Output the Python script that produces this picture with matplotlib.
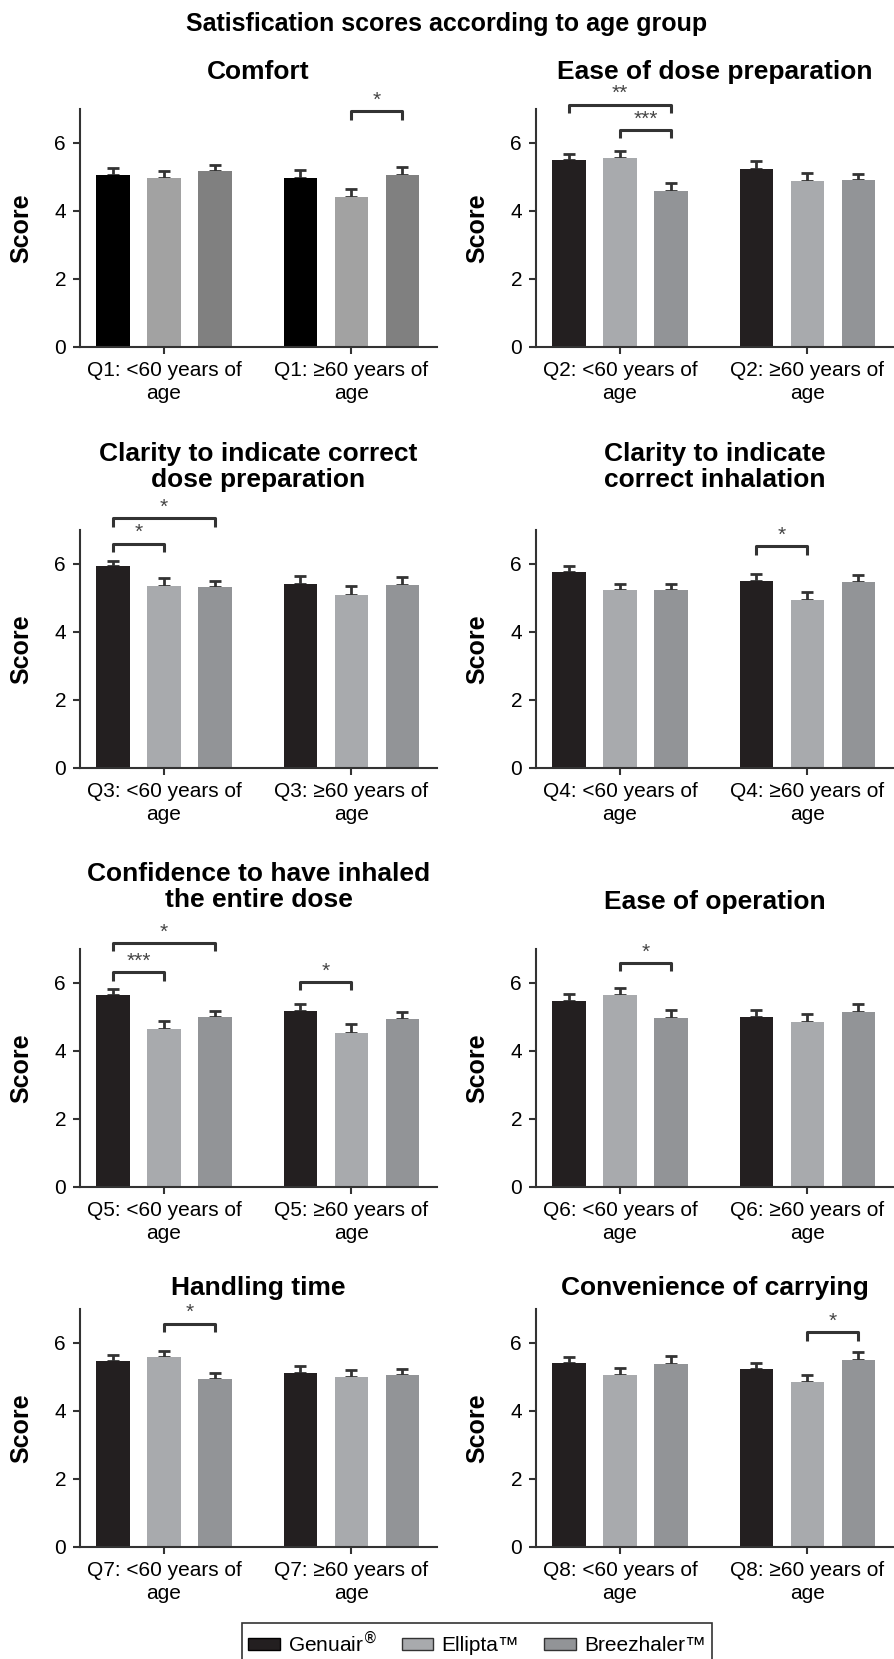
import numpy as np
import matplotlib
matplotlib.use('Agg')
import matplotlib.pyplot as plt
from matplotlib.patches import Patch

plt.rcParams['font.family'] = ['Liberation Sans', 'DejaVu Sans']

# ---- data -------------------------------------------------------------
titles = ['Comfort', 'Ease of dose preparation',
          'Clarity to indicate correct\ndose preparation',
          'Clarity to indicate\ncorrect inhalation',
          'Confidence to have inhaled\nthe entire dose',
          'Ease of operation', 'Handling time', 'Convenience of carrying']
questions = ['Q1', 'Q2', 'Q3', 'Q4', 'Q5', 'Q6', 'Q7', 'Q8']
devices = ['Genuair$^{®}$', 'Ellipta™', 'Breezhaler™']

genuair_young = [5.05, 5.50, 5.93, 5.75, 5.66, 5.47, 5.46, 5.41]
ellipta_young = [4.98, 5.56, 5.36, 5.24, 4.65, 5.64, 5.58, 5.05]
breez_young = [5.17, 4.59, 5.32, 5.24, 4.99, 4.98, 4.93, 5.38]
genuair_old = [4.98, 5.25, 5.42, 5.50, 5.17, 5.00, 5.13, 5.25]
ellipta_old = [4.42, 4.88, 5.10, 4.94, 4.54, 4.84, 5.00, 4.86]
breez_old = [5.05, 4.90, 5.39, 5.46, 4.94, 5.15, 5.05, 5.51]

genuair_young_err = [0.21, 0.18, 0.15, 0.20, 0.17, 0.20, 0.19, 0.17]
ellipta_young_err = [0.19, 0.20, 0.23, 0.18, 0.23, 0.20, 0.18, 0.21]
breez_young_err = [0.18, 0.22, 0.19, 0.18, 0.19, 0.22, 0.20, 0.23]
genuair_old_err = [0.24, 0.21, 0.22, 0.22, 0.22, 0.22, 0.20, 0.17]
ellipta_old_err = [0.23, 0.23, 0.24, 0.25, 0.24, 0.24, 0.21, 0.20]
breez_old_err = [0.25, 0.19, 0.24, 0.22, 0.21, 0.22, 0.20, 0.22]

# (panel, age group, bar a, bar b, bracket height, label)
sig = [(0, 1, 1, 2, 6.93, '*'),
       (1, 0, 0, 2, 7.13, '**'),
       (1, 0, 1, 2, 6.39, '***'),
       (2, 0, 0, 2, 7.35, '*'),
       (2, 0, 0, 1, 6.60, '*'),
       (3, 1, 0, 1, 6.52, '*'),
       (4, 0, 0, 2, 7.18, '*'),
       (4, 0, 0, 1, 6.32, '***'),
       (4, 1, 0, 1, 6.03, '*'),
       (5, 0, 1, 2, 6.59, '*'),
       (6, 0, 1, 2, 6.57, '*'),
       (7, 1, 1, 2, 6.32, '*')]

colors = ['#231f20', '#a8aaad', '#929497']
colors_first = ['#000000', '#a2a2a2', '#808080']

# ---- layout (pixels) --------------------------------------------------
W, H = 894, 1659
col_x = [80, 536]
ax_w = 357
zero_y = [347, 768, 1187, 1547]
ax_h = 238
title_y = [[72, 72], [467, 467], [887, 902], [1288, 1288]]

fig = plt.figure(figsize=(W / 100, H / 100), dpi=100)
fig.text(0.5, 1 - 24 / H, 'Satisfication scores according to age group',
         ha='center', va='center', fontsize=18, fontweight='bold')

width = 0.65
gap = 3.67
dark = '#333333'

for k in range(8):
    r, c = divmod(k, 2)
    ax = fig.add_axes([col_x[c] / W, 1 - zero_y[r] / H, ax_w / W, ax_h / H])
    young = [genuair_young[k], ellipta_young[k], breez_young[k]]
    old = [genuair_old[k], ellipta_old[k], breez_old[k]]
    young_err = [genuair_young_err[k], ellipta_young_err[k], breez_young_err[k]]
    old_err = [genuair_old_err[k], ellipta_old_err[k], breez_old_err[k]]
    cols = colors_first if k == 0 else colors
    for g, (vals, errs) in enumerate([(young, young_err), (old, old_err)]):
        xs = np.arange(3) + g * gap
        ax.errorbar(xs, vals, yerr=[np.zeros(3), errs], fmt='none',
                    ecolor=dark, elinewidth=2, capsize=4, capthick=2, zorder=1)
        ax.bar(xs, vals, width=width, color=cols, zorder=2)

    for (p, g, a, b, h, lab) in sig:
        if p != k:
            continue
        xa, xb = a + g * gap, b + g * gap
        ax.plot([xa, xa, xb, xb], [h - 0.25, h, h, h - 0.25], color=dark,
                lw=2.2, clip_on=False, solid_capstyle='butt')
        ax.text((xa + xb) / 2, h + 0.32, lab, ha='center', va='center',
                fontsize=15, color='#444444')

    ax.set_xlim(-0.647, 6.353)
    ax.set_ylim(0, 7)
    ax.set_yticks([0, 2, 4, 6])
    ax.set_xticks([1, 1 + gap])
    ax.set_xticklabels([questions[k] + ': <60 years of\nage',
                        questions[k] + ': ≥60 years of\nage'])
    for lab in ax.get_xticklabels():
        lab.set_linespacing(1.25)
    ax.tick_params(labelsize=15, width=1.5, length=5, color=dark, pad=5)
    for s in ['top', 'right']:
        ax.spines[s].set_visible(False)
    for s in ['left', 'bottom']:
        ax.spines[s].set_linewidth(1.5)
        ax.spines[s].set_color(dark)
    ax.set_ylabel('Score', fontsize=18, fontweight='bold')
    ax.yaxis.set_label_coords(-0.13, 0.5)

    fig.text((col_x[c] + ax_w / 2) / W, 1 - title_y[r][c] / H, titles[k],
             ha='center', va='center', fontsize=19, fontweight='bold',
             linespacing=1.15)

handles = [Patch(facecolor=colors[0], edgecolor='black'),
           Patch(facecolor=colors[1], edgecolor='#333333'),
           Patch(facecolor=colors[2], edgecolor='#333333')]
leg = fig.legend(handles, devices, loc='upper left', ncol=3,
                 bbox_to_anchor=(242 / W, 1 - 1623 / H), fontsize=15,
                 frameon=True, fancybox=False, edgecolor='black',
                 handlelength=1.5, handleheight=0.55, columnspacing=1.2,
                 handletextpad=0.4, borderpad=0.3, borderaxespad=0)
leg.get_frame().set_linewidth(1.2)

fig.savefig('out.png', dpi=100)
